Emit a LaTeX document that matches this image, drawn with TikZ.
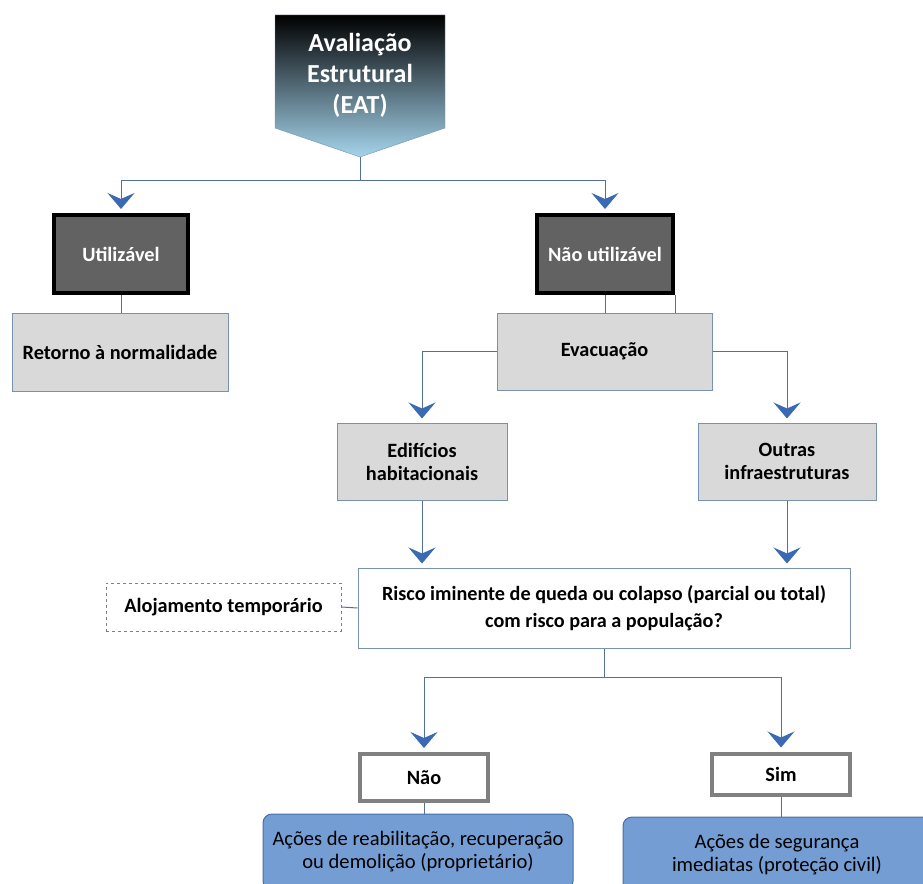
\documentclass[tikz,border=0pt]{standalone}
\usepackage{fontspec}
\setmainfont{Carlito}
\usetikzlibrary{arrows.meta,positioning}
\definecolor{lnc}{RGB}{84,112,150}
\definecolor{tipc}{RGB}{58,106,180}
\definecolor{boxgray}{RGB}{217,217,217}
\definecolor{boxdark}{RGB}{98,98,98}
\definecolor{edgeblue}{RGB}{120,145,175}
\definecolor{actfill}{RGB}{116,157,212}
\definecolor{actedge}{RGB}{72,110,168}
\definecolor{eatmid}{RGB}{40,70,95}
\definecolor{eatlight}{RGB}{165,212,236}
\tikzset{
  box/.style={draw=edgeblue,line width=1pt,align=center,inner sep=2pt,
              font=\fontsize{20.3}{23}\selectfont\bfseries},
  boxg/.style={box,fill=boxgray},
  boxd/.style={box,draw=black,line width=4pt,fill=boxdark,text=white},
  boxw/.style={box,draw=gray,line width=4pt,fill=white},
  boxa/.style={box,draw=actedge,fill=actfill,rounded corners=9pt,
               font=\fontsize{20.6}{23}\selectfont},
  ln/.style={draw=lnc,line width=1pt},
  arr/.style={ln,-{Stealth[length=16pt,width=27pt,inset=6pt,color=tipc]},
              shorten >=4pt},
}

\begin{document}
\begin{tikzpicture}[x=1pt, y=-1pt]
  \useasboundingbox (0,0) rectangle (923,883);
  \clip (0,0) rectangle (923,883);
  % title
  \path[shade, top color=black, middle color=eatmid, bottom color=eatlight,
        draw=edgeblue] (275,15) -- (445,15) -- (445,128) -- (360,157)
        -- (275,128) -- cycle;
  \node[font=\fontsize{26}{31}\selectfont\bfseries, text=white, align=center]
    (eat) at (360,75) {Avaliação\\Estrutural\\(EAT)};
  \coordinate (eattip) at (360,157);

  \node[boxd, minimum width=134pt, minimum height=78pt] (ut) at (121,254) {Utilizável};
  \node[boxd, minimum width=136pt, minimum height=78pt] (nu) at (605,254) {Não utilizável};
  \node[boxg, minimum width=216pt, minimum height=78pt] (ret) at (120,352) {Retorno à normalidade};
  \node[boxg, minimum width=215pt, minimum height=77pt] (ev) at (604.5,351.5) {Evacuação};
  \node[boxg, minimum width=170pt, minimum height=77pt] (ed) at (422,461.5) {Edifícios\\habitacionais};
  \node[boxg, minimum width=178pt, minimum height=77pt] (ou) at (787,461.5) {Outras\\infraestruturas};
  \node[box, fill=white, minimum width=492pt, minimum height=80pt,
        font=\fontsize{20.2}{27}\selectfont\bfseries] (rk) at (604,608)
    {Risco iminente de queda ou colapso (parcial ou total)\\com risco para a população?};
  \node[box, dashed, draw=gray, minimum width=235pt, minimum height=48pt] (aloj) at (223.5,607) {Alojamento temporário};
  \node[boxw, minimum width=128pt, minimum height=47pt] (nao) at (424,777.5) {Não};
  \node[boxw, minimum width=138pt, minimum height=41pt] (sim) at (781,774) {Sim};
  \node[boxa, minimum width=310pt, minimum height=76pt] (ac1) at (418,852)
    {Ações de reabilitação, recuperação\\ou demolição (proprietário)};
  \node[boxa, minimum width=308pt, minimum height=76pt] (ac2) at (777,855)
    {Ações de segurança\\imediatas (proteção civil)};

  % connectors
  \draw[ln] (eattip) -- ++(0,23) coordinate (j1);
  \foreach \n in {ut,nu} \draw[arr] (j1) -| (\n.north);
  \draw[ln] (ut.south) -- (ut.south |- ret.north);
  \draw[ln] (nu.south) -- (nu.south |- ev.north);
  \draw[ln] (nu.south east) -- (nu.south east |- ev.north);
  \draw[arr] (ev.west) -| (ed.north);
  \draw[arr] (ev.east) -| (ou.north);
  \foreach \n in {ed,ou} \draw[arr] (\n.south) -- (\n.south |- rk.north);
  \draw[ln] (aloj.east) -- (rk.west);
  \draw[ln] (rk.south) -- ++(0,29) coordinate (j2);
  \foreach \n in {nao,sim} \draw[arr] (j2) -| (\n.north);
  \foreach \n/\m in {nao/ac1,sim/ac2} \draw[ln] (\n.south) -- (\n.south |- \m.north);
\end{tikzpicture}
\end{document}
